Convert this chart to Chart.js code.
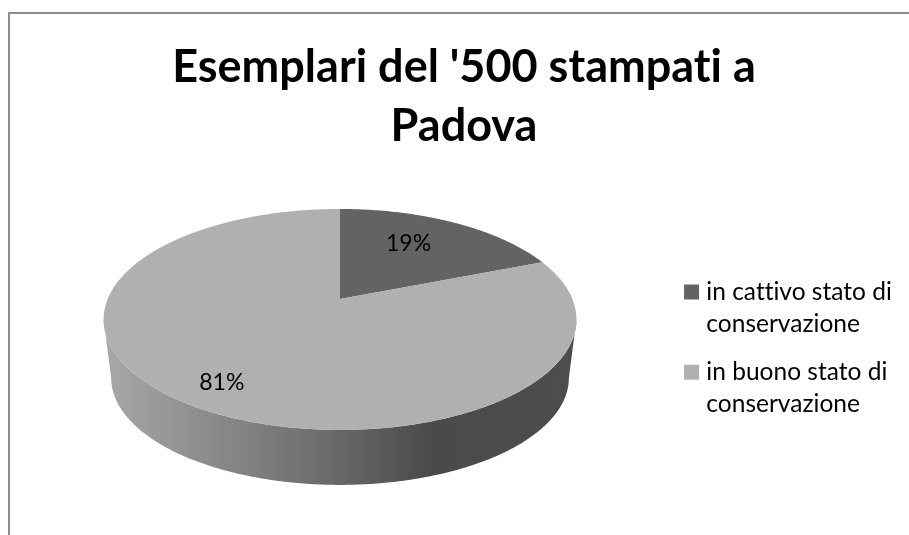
<!DOCTYPE html>
<html>
<head>
<meta charset="utf-8">
<style>
html, body { margin: 0; padding: 0; background: #fff; }
#wrap { width: 909px; height: 535px; }
</style>
<script src="https://cdn.jsdelivr.net/npm/chart.js@4/dist/chart.umd.js"></script>
</head>
<body>
<div id="wrap"><canvas id="pieChart" width="909" height="535"></canvas></div>
<script>
var titleLines = ["Esemplari del '500 stampati a", "Padova"];
var categories = [["in cattivo stato di", "conservazione"], ["in buono stato di", "conservazione"]];
var values = [19, 81];
var colors = ["#636363", "#b0b0b0"];

var FONT = "Lato, Carlito, Calibri, sans-serif";
var SHIFT = 10;     // pie sits a bit left of the middle of the chart area
var LIFT = 53;      // and higher
var WALL = 58.5;    // depth of the side wall
var WALL_K = 0.968; // bottom rim is a bit narrower

// tilted disc with some perspective, the apex is not the middle of the ellipse
function project(el, angle, f) {
    var u = Math.cos(angle) * f;
    var v = -Math.sin(angle) * f;
    var w = 1 + 0.1855 * v;
    return { x: el.x - SHIFT + 232.3 * u / w, y: el.y - LIFT - 106.7 * v / w };
}

function sample(el, a0, a1) {
    var pts = [];
    var n = Math.max(2, Math.ceil(Math.abs(a1 - a0) / 0.01));
    for (var i = 0; i <= n; i++) {
        pts.push(project(el, a0 + (a1 - a0) * i / n, 1));
    }
    return pts;
}

function drawWall(ctx, el) {
    // rim angles facing the viewer, right side round to left side
    var frontA = Math.asin(0.1856), frontB = Math.PI - frontA;
    var top = sample(el, frontA, frontB);
    var midX = el.x - SHIFT;
    var midY = el.y - LIFT + 20.5;
    var grad = ctx.createLinearGradient(104, 0, 577, 0);
    grad.addColorStop(0, "#a8a8a8");
    grad.addColorStop(0.45, "#6e6e6e");
    grad.addColorStop(0.69, "#4a4a4a");
    grad.addColorStop(1, "#4d4d4d");
    ctx.beginPath();
    top.forEach(function (p, i) {
        if (i == 0) ctx.moveTo(p.x, p.y); else ctx.lineTo(p.x, p.y);
    });
    top.reverse().forEach(function (p) {
        ctx.lineTo(midX + (p.x - midX) * WALL_K, midY + WALL + (p.y - midY) * WALL_K);
    });
    ctx.closePath();
    ctx.fillStyle = grad;
    ctx.fill();
}

Chart.ArcElement.prototype.draw = function (ctx) {
    ctx.save();
    // the slice that holds the front of the disc also gets the wall
    if (this.startAngle < Math.PI / 2 && this.endAngle > Math.PI / 2) {
        drawWall(ctx, this);
    }
    var pts = sample(this, this.startAngle, this.endAngle);
    var apex = project(this, 0, 0);
    ctx.beginPath();
    ctx.moveTo(apex.x, apex.y);
    pts.forEach(function (p) { ctx.lineTo(p.x, p.y); });
    ctx.closePath();
    ctx.fillStyle = this.options.backgroundColor;
    ctx.fill();
    ctx.restore();
};

var framePlugin = {
    id: 'frame',
    beforeDraw: function (chart) {
        var ctx = chart.ctx;
        // stops Lato joining tt and ti into ligatures
        ctx.letterSpacing = "0.01px";
        ctx.save();
        ctx.fillStyle = "#fff";
        ctx.fillRect(0, 0, chart.width, chart.height);
        ctx.fillStyle = "#8e8e8e";
        ctx.fillRect(8, 12, chart.width - 8, 2);
        ctx.fillRect(8, 12, 2, chart.height - 12);
        ctx.restore();
    }
};

var percentPlugin = {
    id: 'percentLabels',
    afterDatasetsDraw: function (chart) {
        var ctx = chart.ctx;
        var total = values.reduce(function (a, b) { return a + b; }, 0);
        var place = [{ f: 0.7, dx: -14 }, { f: 0.83, dx: 6 }];
        ctx.save();
        ctx.font = "23px " + FONT;
        ctx.fillStyle = "#000";
        ctx.textAlign = "center";
        ctx.textBaseline = "middle";
        chart.getDatasetMeta(0).data.forEach(function (el, i) {
            var mid = (el.startAngle + el.endAngle) / 2;
            var p = project(el, mid, place[i].f);
            ctx.fillText(Math.round(values[i] / total * 100) + "%", p.x + place[i].dx, p.y);
        });
        ctx.restore();
    }
};

var ctxP = document.getElementById("pieChart").getContext('2d');
var pieChart = new Chart(ctxP, {
    type: 'pie',
    data: {
        labels: categories,
        datasets: [{
            data: values,
            backgroundColor: colors,
            borderWidth: 0
        }]
    },
    options: {
        responsive: false,
        animation: false,
        layout: { padding: { left: 27, right: 8, top: 0, bottom: 0 } },
        plugins: {
            title: {
                display: true,
                text: titleLines,
                color: "#000",
                font: { family: FONT, size: 45, weight: 'bold', lineHeight: 1.31 },
                padding: { top: 38, bottom: 13 }
            },
            legend: {
                position: 'right',
                fullSize: false,
                labels: {
                    color: "#000",
                    // small box plus a thick stroke, so the square sits closer to its text
                    boxWidth: 5,
                    boxHeight: 5,
                    padding: 16,
                    font: { family: FONT, size: 24.5, lineHeight: 1.31 },
                    generateLabels: function (chart) {
                        var items = Chart.overrides.pie.plugins.legend.labels.generateLabels(chart);
                        items.forEach(function (item, i) {
                            item.strokeStyle = colors[i];
                            item.lineWidth = 10;
                        });
                        return items;
                    }
                }
            },
            tooltip: { enabled: false }
        }
    },
    plugins: [framePlugin, percentPlugin]
});
</script>
</body>
</html>
